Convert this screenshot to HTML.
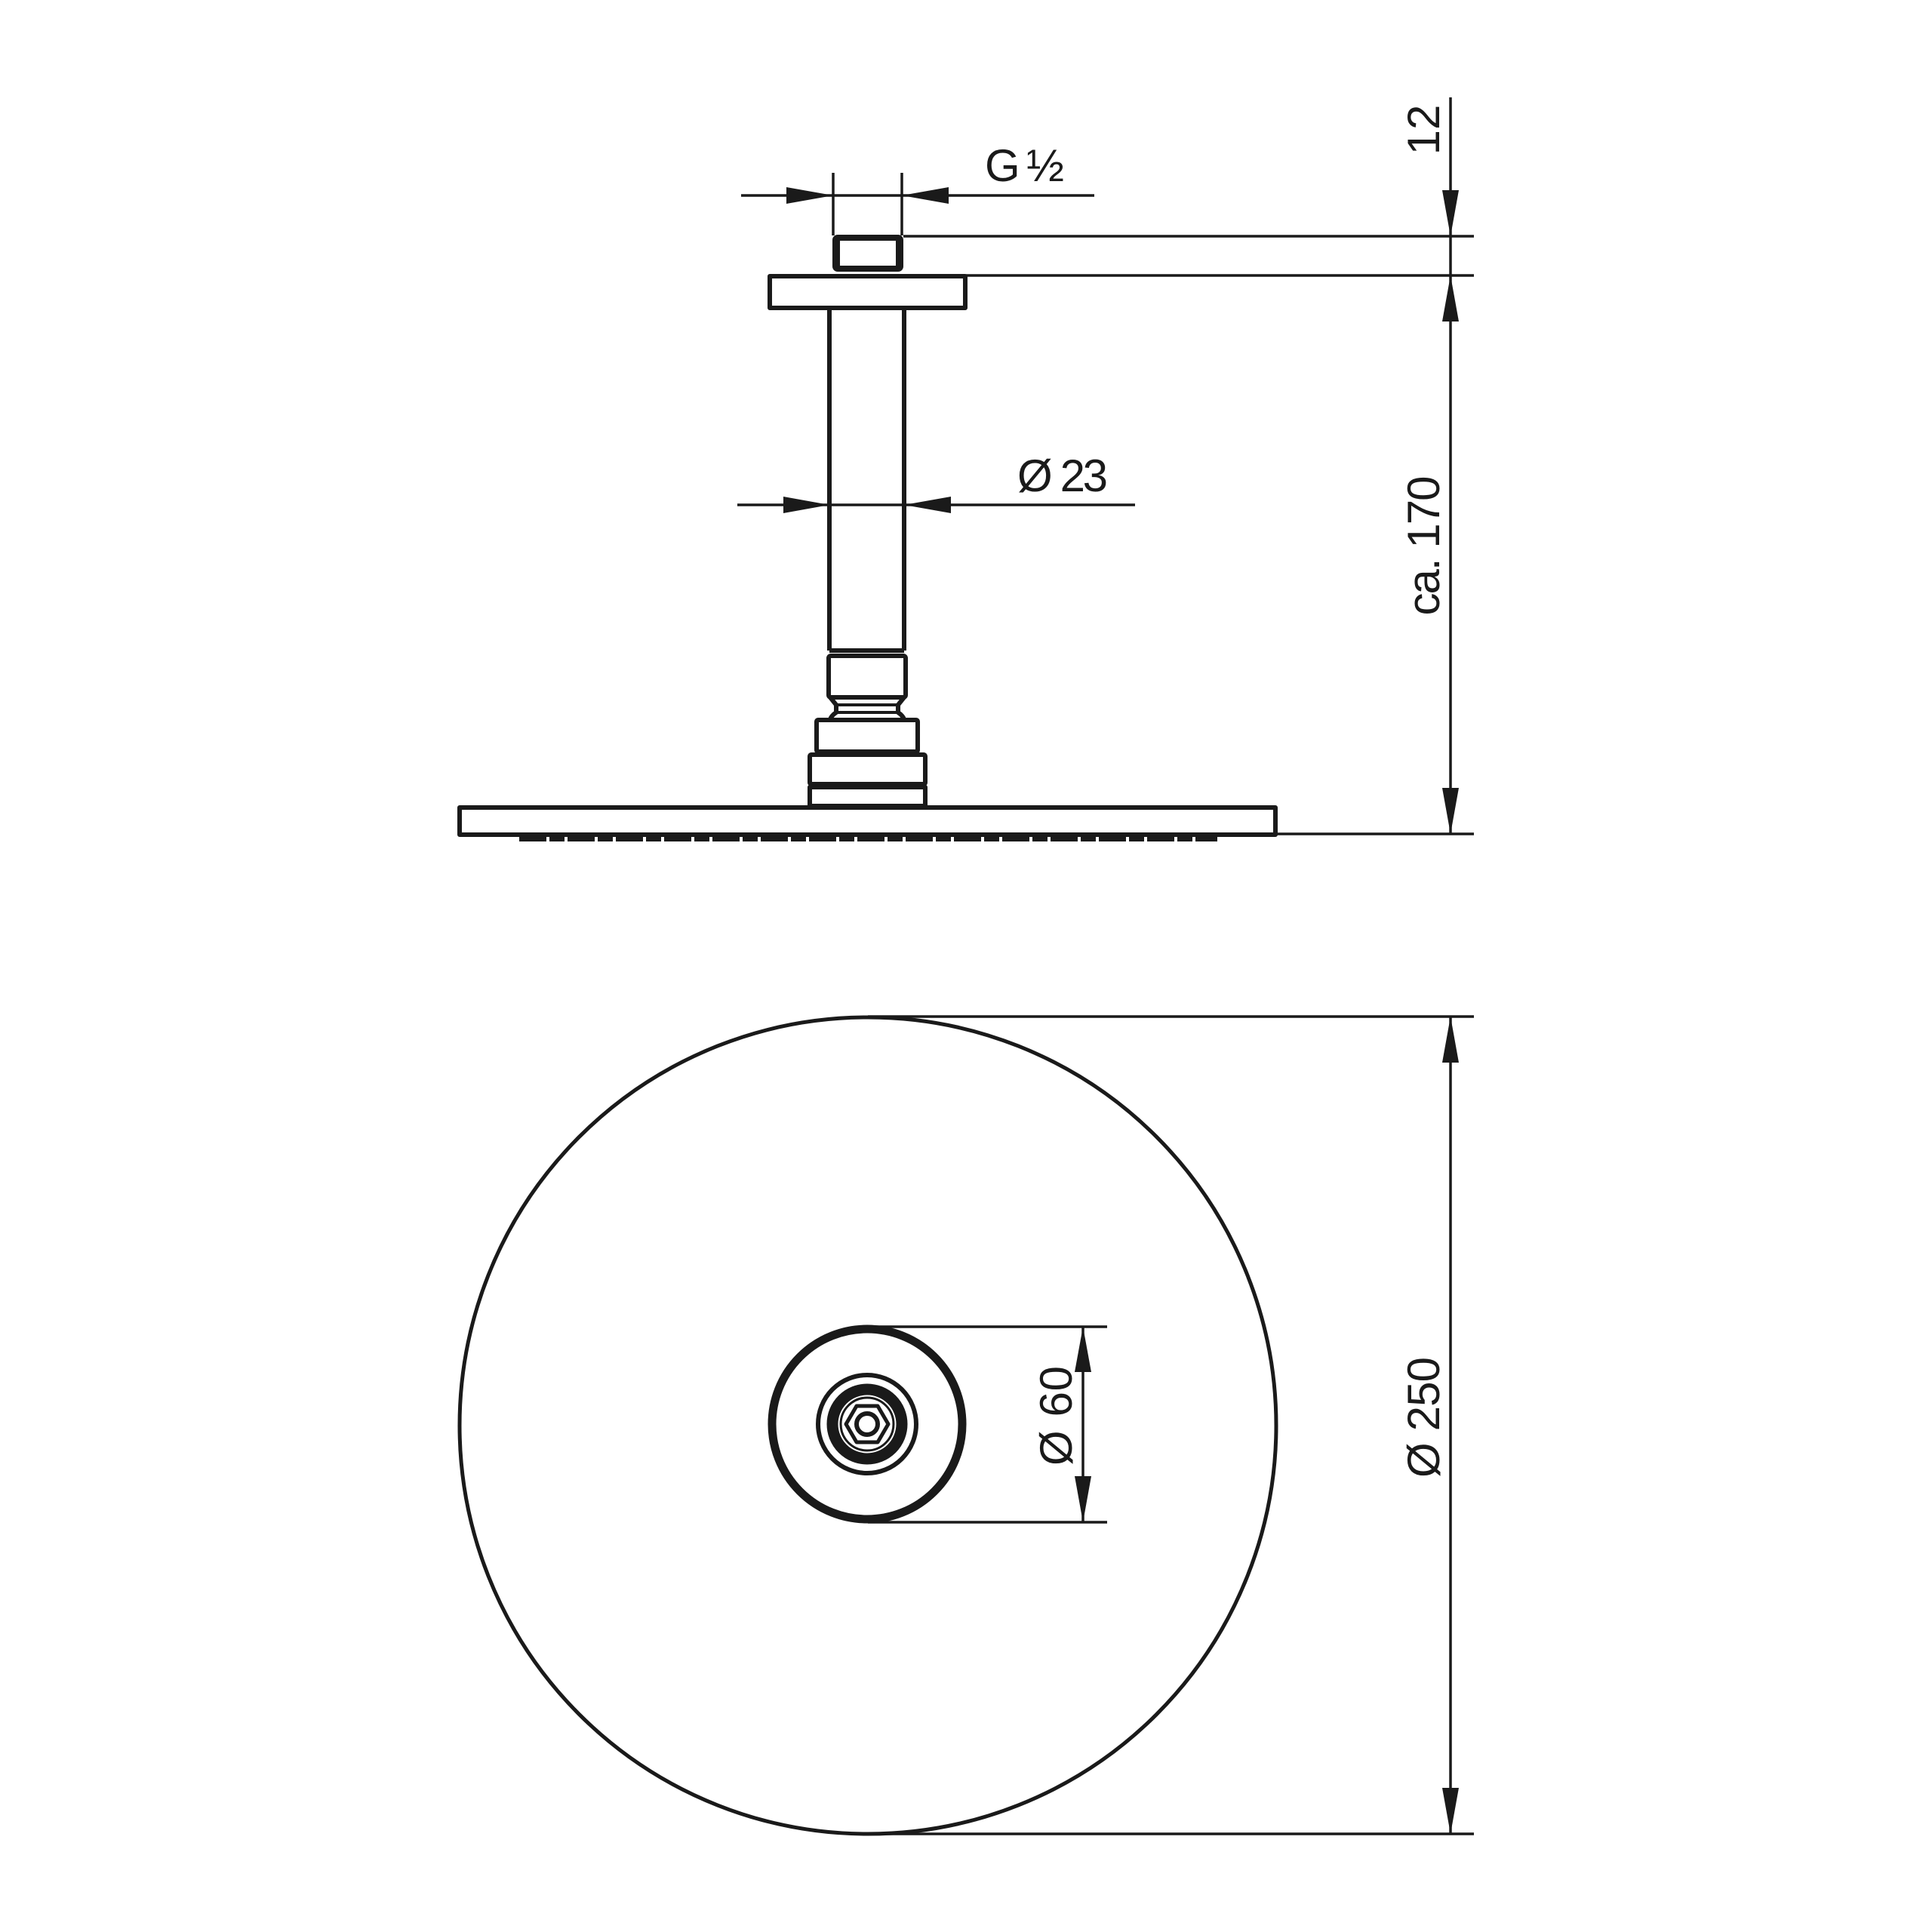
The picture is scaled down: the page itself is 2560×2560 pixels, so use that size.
<!DOCTYPE html>
<html><head><meta charset="utf-8"><style>html,body{margin:0;padding:0;background:#fff}svg{display:block}</style></head>
<body>
<svg width="2560" height="2560" viewBox="0 0 2560 2560" xmlns="http://www.w3.org/2000/svg">
<g fill="none" stroke="#1a1a1a" stroke-linejoin="round">
<g stroke-width="3.5">
<line x1="982" y1="259" x2="1450" y2="259"/>
<line x1="1104" y1="229" x2="1104" y2="312"/>
<line x1="1195" y1="229" x2="1195" y2="312"/>
<line x1="1197" y1="313" x2="1953" y2="313"/>
<line x1="1280" y1="365" x2="1953" y2="365"/>
<line x1="1691" y1="1105" x2="1953" y2="1105"/>
<line x1="1922" y1="129" x2="1922" y2="1105"/>
<line x1="977" y1="669" x2="1504" y2="669"/>
<line x1="1150" y1="1347" x2="1953" y2="1347"/>
<line x1="1150" y1="2430" x2="1953" y2="2430"/>
<line x1="1922" y1="1347" x2="1922" y2="2430"/>
<line x1="1150" y1="1758" x2="1467" y2="1758"/>
<line x1="1150" y1="2017" x2="1467" y2="2017"/>
<line x1="1435" y1="1758" x2="1435" y2="2017"/>
</g>
<g stroke-width="6">
<rect x="1107" y="315" width="86" height="41" rx="3" stroke-width="8"/>
<line x1="1112" y1="318" x2="1112" y2="356" stroke-width="2"/>
<line x1="1188" y1="318" x2="1188" y2="356" stroke-width="2"/>
<rect x="1020" y="366" width="259" height="42"/>
<line x1="1099" y1="408" x2="1099" y2="862"/>
<line x1="1198" y1="408" x2="1198" y2="862"/>
<line x1="1099" y1="862" x2="1198" y2="862"/>
<rect x="1098" y="869" width="102" height="55" rx="3"/>
<path d="M1100 924 L1108 934 L1108 944 Q1102 948 1100 953 M1198 924 L1190 934 L1190 944 Q1196 948 1198 953"/>
<line x1="1108" y1="934" x2="1190" y2="934" stroke-width="4"/>
<line x1="1108" y1="944" x2="1190" y2="944" stroke-width="4"/>
<rect x="1082" y="954" width="134" height="42" rx="2"/>
<rect x="1073" y="1000" width="153" height="39" rx="2"/>
<rect x="1073" y="1043" width="153" height="25"/>
<rect x="609" y="1070" width="1081" height="36"/>
</g>
<g stroke-width="10" stroke-dasharray="36 4 20 4">
<line x1="688" y1="1110" x2="1613" y2="1110"/>
</g>
<circle cx="1150" cy="1889" r="541" stroke-width="5"/>
<circle cx="1149" cy="1887" r="126" stroke-width="11"/>
<circle cx="1149" cy="1887" r="65" stroke-width="6"/>
<circle cx="1149" cy="1887" r="46" stroke-width="15"/>
<circle cx="1149" cy="1887" r="35" stroke-width="3"/>
<polygon points="1121,1887 1135,1863 1163,1863 1177,1887 1163,1911 1135,1911" stroke-width="5"/>
<circle cx="1149" cy="1887" r="14" stroke-width="6"/>
</g>
<g fill="#1a1a1a">
<polygon points="1104,259 1042,248 1042,270"/>
<polygon points="1195,259 1257,248 1257,270"/>
<polygon points="1099,669 1038,658 1038,680"/>
<polygon points="1198,669 1260,658 1260,680"/>
<polygon points="1922,313 1911,252 1933,252"/>
<polygon points="1922,365 1911,426 1933,426"/>
<polygon points="1922,1105 1911,1044 1933,1044"/>
<polygon points="1922,1347 1911,1408 1933,1408"/>
<polygon points="1922,2430 1911,2369 1933,2369"/>
<polygon points="1435,1758 1424,1818 1446,1818"/>
<polygon points="1435,2017 1424,1956 1446,1956"/>
</g>
<g font-family="'Liberation Sans', 'DejaVu Sans', sans-serif" font-size="60" fill="#1a1a1a">
<text x="1305" y="240" textLength="105">G ½</text>
<text x="1348" y="651" textLength="120">Ø 23</text>
<text transform="translate(1907,172) rotate(-90)" text-anchor="middle">12</text>
<text transform="translate(1907,723) rotate(-90)" text-anchor="middle" textLength="185">ca. 170</text>
<text transform="translate(1907,1878) rotate(-90)" text-anchor="middle" textLength="160">Ø 250</text>
<text transform="translate(1420,1876) rotate(-90)" text-anchor="middle" textLength="132">Ø 60</text>
</g>
</svg>
</body></html>
